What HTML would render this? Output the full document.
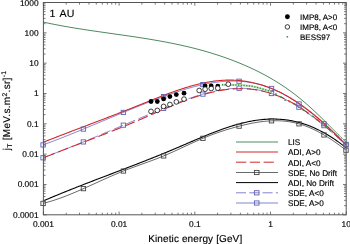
<!DOCTYPE html>
<html><head><meta charset="utf-8"><style>
html,body{margin:0;padding:0;background:#fff;}
svg{display:block;will-change:transform;}
text{font-family:"Liberation Sans",sans-serif;fill:#000;stroke:#000;stroke-width:0.15px;text-rendering:geometricPrecision;}
</style></head><body>
<svg width="350" height="244" viewBox="0 0 350 244">
<rect width="350" height="244" fill="#fff"/>
<path d="M43.00,22.04 L44.00,22.26 L45.00,22.47 L46.00,22.69 L47.00,22.90 L48.00,23.11 L49.00,23.32 L50.00,23.52 L51.00,23.72 L52.00,23.93 L53.00,24.13 L54.00,24.32 L55.00,24.52 L56.00,24.71 L57.00,24.90 L58.00,25.09 L59.00,25.28 L60.00,25.47 L61.00,25.65 L62.00,25.84 L63.00,26.02 L64.00,26.20 L65.00,26.38 L66.00,26.55 L67.00,26.73 L68.00,26.90 L69.00,27.08 L70.00,27.25 L71.00,27.42 L72.00,27.58 L73.00,27.75 L74.00,27.92 L75.00,28.08 L76.00,28.25 L77.00,28.41 L78.00,28.57 L79.00,28.73 L80.00,28.89 L81.00,29.04 L82.00,29.20 L83.00,29.36 L84.00,29.51 L85.00,29.67 L86.00,29.82 L87.00,29.97 L88.00,30.12 L89.00,30.27 L90.00,30.42 L91.00,30.57 L92.00,30.72 L93.00,30.87 L94.00,31.01 L95.00,31.16 L96.00,31.31 L97.00,31.45 L98.00,31.60 L99.00,31.74 L100.00,31.89 L101.00,32.03 L102.00,32.17 L103.00,32.32 L104.00,32.46 L105.00,32.60 L106.00,32.74 L107.00,32.89 L108.00,33.03 L109.00,33.17 L110.00,33.31 L111.00,33.45 L112.00,33.59 L113.00,33.74 L114.00,33.88 L115.00,34.02 L116.00,34.16 L117.00,34.30 L118.00,34.45 L119.00,34.59 L120.00,34.73 L121.00,34.87 L122.00,35.02 L123.00,35.16 L124.00,35.30 L125.00,35.45 L126.00,35.59 L127.00,35.74 L128.00,35.88 L129.00,36.03 L130.00,36.18 L131.00,36.33 L132.00,36.47 L133.00,36.62 L134.00,36.77 L135.00,36.92 L136.00,37.07 L137.00,37.22 L138.00,37.38 L139.00,37.53 L140.00,37.68 L141.00,37.84 L142.00,38.00 L143.00,38.15 L144.00,38.31 L145.00,38.47 L146.00,38.63 L147.00,38.79 L148.00,38.95 L149.00,39.12 L150.00,39.28 L151.00,39.45 L152.00,39.62 L153.00,39.79 L154.00,39.96 L155.00,40.13 L156.00,40.30 L157.00,40.48 L158.00,40.65 L159.00,40.83 L160.00,41.01 L161.00,41.19 L162.00,41.37 L163.00,41.56 L164.00,41.74 L165.00,41.93 L166.00,42.12 L167.00,42.31 L168.00,42.50 L169.00,42.70 L170.00,42.89 L171.00,43.09 L172.00,43.29 L173.00,43.50 L174.00,43.70 L175.00,43.91 L176.00,44.11 L177.00,44.33 L178.00,44.54 L179.00,44.75 L180.00,44.97 L181.00,45.19 L182.00,45.41 L183.00,45.64 L184.00,45.86 L185.00,46.09 L186.00,46.32 L187.00,46.56 L188.00,46.79 L189.00,47.03 L190.00,47.27 L191.00,47.52 L192.00,47.76 L193.00,48.01 L194.00,48.26 L195.00,48.52 L196.00,48.77 L197.00,49.03 L198.00,49.30 L199.00,49.56 L200.00,49.83 L201.00,50.10 L202.00,50.38 L203.00,50.65 L204.00,50.93 L205.00,51.22 L206.00,51.50 L207.00,51.79 L208.00,52.08 L209.00,52.38 L210.00,52.68 L211.00,52.98 L212.00,53.29 L213.00,53.60 L214.00,53.91 L215.00,54.22 L216.00,54.54 L217.00,54.86 L218.00,55.19 L219.00,55.52 L220.00,55.85 L221.00,56.19 L222.00,56.53 L223.00,56.87 L224.00,57.22 L225.00,57.57 L226.00,57.92 L227.00,58.28 L228.00,58.65 L229.00,59.01 L230.00,59.38 L231.00,59.76 L232.00,60.13 L233.00,60.51 L234.00,60.90 L235.00,61.29 L236.00,61.68 L237.00,62.08 L238.00,62.48 L239.00,62.89 L240.00,63.30 L241.00,63.71 L242.00,64.13 L243.00,64.56 L244.00,64.98 L245.00,65.42 L246.00,65.85 L247.00,66.29 L248.00,66.74 L249.00,67.19 L250.00,67.64 L251.00,68.10 L252.00,68.57 L253.00,69.04 L254.00,69.51 L255.00,69.99 L256.00,70.47 L257.00,70.97 L258.00,71.46 L259.00,71.96 L260.00,72.47 L261.00,72.98 L262.00,73.50 L263.00,74.03 L264.00,74.56 L265.00,75.10 L266.00,75.64 L267.00,76.19 L268.00,76.74 L269.00,77.31 L270.00,77.88 L271.00,78.45 L272.00,79.03 L273.00,79.62 L274.00,80.22 L275.00,80.82 L276.00,81.44 L277.00,82.05 L278.00,82.68 L279.00,83.31 L280.00,83.95 L281.00,84.60 L282.00,85.26 L283.00,85.92 L284.00,86.59 L285.00,87.27 L286.00,87.96 L287.00,88.65 L288.00,89.36 L289.00,90.07 L290.00,90.79 L291.00,91.52 L292.00,92.26 L293.00,93.00 L294.00,93.76 L295.00,94.52 L296.00,95.30 L297.00,96.08 L298.00,96.87 L299.00,97.67 L300.00,98.48 L301.00,99.30 L302.00,100.13 L303.00,100.97 L304.00,101.82 L305.00,102.68 L306.00,103.54 L307.00,104.42 L308.00,105.30 L309.00,106.20 L310.00,107.10 L311.00,108.01 L312.00,108.92 L313.00,109.84 L314.00,110.77 L315.00,111.71 L316.00,112.65 L317.00,113.60 L318.00,114.55 L319.00,115.51 L320.00,116.47 L321.00,117.44 L322.00,118.41 L323.00,119.39 L324.00,120.37 L325.00,121.35 L326.00,122.34 L327.00,123.33 L328.00,124.32 L329.00,125.31 L330.00,126.31 L331.00,127.30 L332.00,128.30 L333.00,129.30 L334.00,130.30 L335.00,131.30 L336.00,132.30 L337.00,133.30 L338.00,134.30 L339.00,135.29 L340.00,136.29 L341.00,137.29 L342.00,138.28 L343.00,139.27 L344.00,140.26 L345.00,141.24 L346.00,142.23" stroke="#4f8a5f" stroke-width="1" fill="none"/>
<path d="M43.00,203.41 L44.00,203.16 L45.00,202.90 L46.00,202.64 L47.00,202.36 L48.00,202.08 L49.00,201.80 L50.00,201.50 L51.00,201.20 L52.00,200.89 L53.00,200.58 L54.00,200.26 L55.00,199.93 L56.00,199.59 L57.00,199.26 L58.00,198.91 L59.00,198.56 L60.00,198.20 L61.00,197.84 L62.00,197.47 L63.00,197.10 L64.00,196.72 L65.00,196.34 L66.00,195.96 L67.00,195.57 L68.00,195.17 L69.00,194.77 L70.00,194.37 L71.00,193.96 L72.00,193.55 L73.00,193.14 L74.00,192.72 L75.00,192.30 L76.00,191.87 L77.00,191.45 L78.00,191.02 L79.00,190.58 L80.00,190.15 L81.00,189.71 L82.00,189.27 L83.00,188.83 L84.00,188.39 L85.00,187.94 L86.00,187.49 L87.00,187.05 L88.00,186.60 L89.00,186.15 L90.00,185.69 L91.00,185.24 L92.00,184.79 L93.00,184.33 L94.00,183.88 L95.00,183.42 L96.00,182.97 L97.00,182.51 L98.00,182.06 L99.00,181.61 L100.00,181.15 L101.00,180.70 L102.00,180.25 L103.00,179.80 L104.00,179.35 L105.00,178.90 L106.00,178.45 L107.00,178.00 L108.00,177.56 L109.00,177.12 L110.00,176.68 L111.00,176.24 L112.00,175.80 L113.00,175.37 L114.00,174.94 L115.00,174.51 L116.00,174.08 L117.00,173.66 L118.00,173.24 L119.00,172.83 L120.00,172.41 L121.00,172.01 L122.00,171.60 L123.00,171.20 L124.00,170.80 L125.00,170.41 L126.00,170.02 L127.00,169.64 L128.00,169.25 L129.00,168.87 L130.00,168.50 L131.00,168.12 L132.00,167.75 L133.00,167.38 L134.00,167.02 L135.00,166.65 L136.00,166.29 L137.00,165.93 L138.00,165.57 L139.00,165.20 L140.00,164.84 L141.00,164.48 L142.00,164.13 L143.00,163.77 L144.00,163.41 L145.00,163.05 L146.00,162.68 L147.00,162.32 L148.00,161.96 L149.00,161.59 L150.00,161.23 L151.00,160.86 L152.00,160.49 L153.00,160.11 L154.00,159.74 L155.00,159.36 L156.00,158.98 L157.00,158.59 L158.00,158.20 L159.00,157.81 L160.00,157.41 L161.00,157.01 L162.00,156.61 L163.00,156.20 L164.00,155.78 L165.00,155.36 L166.00,154.94 L167.00,154.51 L168.00,154.07 L169.00,153.64 L170.00,153.20 L171.00,152.75 L172.00,152.31 L173.00,151.86 L174.00,151.40 L175.00,150.95 L176.00,150.49 L177.00,150.03 L178.00,149.57 L179.00,149.11 L180.00,148.65 L181.00,148.18 L182.00,147.72 L183.00,147.25 L184.00,146.79 L185.00,146.32 L186.00,145.86 L187.00,145.39 L188.00,144.93 L189.00,144.47 L190.00,144.01 L191.00,143.55 L192.00,143.09 L193.00,142.64 L194.00,142.18 L195.00,141.73 L196.00,141.29 L197.00,140.84 L198.00,140.40 L199.00,139.97 L200.00,139.54 L201.00,139.11 L202.00,138.68 L203.00,138.26 L204.00,137.85 L205.00,137.44 L206.00,137.04 L207.00,136.64 L208.00,136.24 L209.00,135.85 L210.00,135.46 L211.00,135.08 L212.00,134.71 L213.00,134.33 L214.00,133.97 L215.00,133.60 L216.00,133.24 L217.00,132.89 L218.00,132.54 L219.00,132.20 L220.00,131.86 L221.00,131.52 L222.00,131.19 L223.00,130.86 L224.00,130.54 L225.00,130.22 L226.00,129.90 L227.00,129.59 L228.00,129.29 L229.00,128.99 L230.00,128.69 L231.00,128.40 L232.00,128.11 L233.00,127.82 L234.00,127.54 L235.00,127.26 L236.00,126.99 L237.00,126.72 L238.00,126.46 L239.00,126.20 L240.00,125.94 L241.00,125.69 L242.00,125.44 L243.00,125.20 L244.00,124.96 L245.00,124.72 L246.00,124.49 L247.00,124.27 L248.00,124.05 L249.00,123.83 L250.00,123.63 L251.00,123.42 L252.00,123.23 L253.00,123.04 L254.00,122.85 L255.00,122.67 L256.00,122.50 L257.00,122.34 L258.00,122.18 L259.00,122.03 L260.00,121.89 L261.00,121.75 L262.00,121.63 L263.00,121.51 L264.00,121.39 L265.00,121.29 L266.00,121.20 L267.00,121.11 L268.00,121.03 L269.00,120.96 L270.00,120.90 L271.00,120.85 L272.00,120.81 L273.00,120.78 L274.00,120.75 L275.00,120.74 L276.00,120.74 L277.00,120.75 L278.00,120.77 L279.00,120.80 L280.00,120.83 L281.00,120.89 L282.00,120.95 L283.00,121.02 L284.00,121.10 L285.00,121.20 L286.00,121.31 L287.00,121.43 L288.00,121.56 L289.00,121.70 L290.00,121.86 L291.00,122.03 L292.00,122.21 L293.00,122.41 L294.00,122.62 L295.00,122.84 L296.00,123.07 L297.00,123.32 L298.00,123.58 L299.00,123.86 L300.00,124.15 L301.00,124.45 L302.00,124.77 L303.00,125.10 L304.00,125.45 L305.00,125.81 L306.00,126.18 L307.00,126.57 L308.00,126.96 L309.00,127.37 L310.00,127.80 L311.00,128.23 L312.00,128.68 L313.00,129.14 L314.00,129.61 L315.00,130.10 L316.00,130.59 L317.00,131.10 L318.00,131.62 L319.00,132.15 L320.00,132.69 L321.00,133.24 L322.00,133.81 L323.00,134.38 L324.00,134.97 L325.00,135.56 L326.00,136.17 L327.00,136.78 L328.00,137.41 L329.00,138.04 L330.00,138.69 L331.00,139.34 L332.00,140.01 L333.00,140.68 L334.00,141.36 L335.00,142.05 L336.00,142.75 L337.00,143.46 L338.00,144.18 L339.00,144.91 L340.00,145.64 L341.00,146.38 L342.00,147.13 L343.00,147.89 L344.00,148.66 L345.00,149.43 L346.00,150.21" stroke="#444" stroke-width="0.8" fill="none"/>
<path d="M43.00,201.03 L44.00,200.60 L45.00,200.17 L46.00,199.75 L47.00,199.32 L48.00,198.90 L49.00,198.47 L50.00,198.05 L51.00,197.63 L52.00,197.22 L53.00,196.80 L54.00,196.38 L55.00,195.97 L56.00,195.55 L57.00,195.14 L58.00,194.73 L59.00,194.32 L60.00,193.91 L61.00,193.50 L62.00,193.09 L63.00,192.69 L64.00,192.28 L65.00,191.88 L66.00,191.48 L67.00,191.07 L68.00,190.67 L69.00,190.27 L70.00,189.87 L71.00,189.47 L72.00,189.08 L73.00,188.68 L74.00,188.28 L75.00,187.89 L76.00,187.49 L77.00,187.10 L78.00,186.71 L79.00,186.31 L80.00,185.92 L81.00,185.53 L82.00,185.14 L83.00,184.75 L84.00,184.36 L85.00,183.97 L86.00,183.58 L87.00,183.20 L88.00,182.81 L89.00,182.42 L90.00,182.04 L91.00,181.65 L92.00,181.27 L93.00,180.88 L94.00,180.50 L95.00,180.11 L96.00,179.73 L97.00,179.34 L98.00,178.96 L99.00,178.58 L100.00,178.20 L101.00,177.81 L102.00,177.43 L103.00,177.05 L104.00,176.67 L105.00,176.28 L106.00,175.90 L107.00,175.52 L108.00,175.14 L109.00,174.76 L110.00,174.38 L111.00,174.00 L112.00,173.62 L113.00,173.23 L114.00,172.85 L115.00,172.47 L116.00,172.09 L117.00,171.71 L118.00,171.33 L119.00,170.94 L120.00,170.56 L121.00,170.18 L122.00,169.80 L123.00,169.42 L124.00,169.03 L125.00,168.65 L126.00,168.27 L127.00,167.88 L128.00,167.50 L129.00,167.11 L130.00,166.73 L131.00,166.34 L132.00,165.96 L133.00,165.57 L134.00,165.19 L135.00,164.80 L136.00,164.41 L137.00,164.02 L138.00,163.63 L139.00,163.25 L140.00,162.86 L141.00,162.46 L142.00,162.07 L143.00,161.68 L144.00,161.29 L145.00,160.90 L146.00,160.50 L147.00,160.11 L148.00,159.71 L149.00,159.32 L150.00,158.92 L151.00,158.52 L152.00,158.13 L153.00,157.73 L154.00,157.33 L155.00,156.93 L156.00,156.52 L157.00,156.12 L158.00,155.72 L159.00,155.31 L160.00,154.91 L161.00,154.50 L162.00,154.09 L163.00,153.68 L164.00,153.27 L165.00,152.86 L166.00,152.45 L167.00,152.04 L168.00,151.62 L169.00,151.21 L170.00,150.79 L171.00,150.37 L172.00,149.95 L173.00,149.53 L174.00,149.11 L175.00,148.68 L176.00,148.26 L177.00,147.83 L178.00,147.41 L179.00,146.98 L180.00,146.55 L181.00,146.12 L182.00,145.69 L183.00,145.26 L184.00,144.83 L185.00,144.40 L186.00,143.97 L187.00,143.53 L188.00,143.10 L189.00,142.67 L190.00,142.24 L191.00,141.81 L192.00,141.38 L193.00,140.95 L194.00,140.52 L195.00,140.09 L196.00,139.67 L197.00,139.24 L198.00,138.82 L199.00,138.39 L200.00,137.97 L201.00,137.55 L202.00,137.13 L203.00,136.72 L204.00,136.30 L205.00,135.89 L206.00,135.48 L207.00,135.07 L208.00,134.66 L209.00,134.26 L210.00,133.86 L211.00,133.46 L212.00,133.07 L213.00,132.68 L214.00,132.29 L215.00,131.90 L216.00,131.52 L217.00,131.14 L218.00,130.77 L219.00,130.40 L220.00,130.03 L221.00,129.67 L222.00,129.31 L223.00,128.95 L224.00,128.60 L225.00,128.25 L226.00,127.91 L227.00,127.57 L228.00,127.24 L229.00,126.91 L230.00,126.59 L231.00,126.27 L232.00,125.96 L233.00,125.65 L234.00,125.35 L235.00,125.05 L236.00,124.76 L237.00,124.48 L238.00,124.20 L239.00,123.93 L240.00,123.66 L241.00,123.40 L242.00,123.15 L243.00,122.90 L244.00,122.66 L245.00,122.43 L246.00,122.20 L247.00,121.98 L248.00,121.77 L249.00,121.56 L250.00,121.36 L251.00,121.17 L252.00,120.99 L253.00,120.81 L254.00,120.65 L255.00,120.49 L256.00,120.33 L257.00,120.19 L258.00,120.05 L259.00,119.93 L260.00,119.81 L261.00,119.70 L262.00,119.60 L263.00,119.50 L264.00,119.42 L265.00,119.34 L266.00,119.27 L267.00,119.22 L268.00,119.17 L269.00,119.13 L270.00,119.09 L271.00,119.07 L272.00,119.06 L273.00,119.05 L274.00,119.06 L275.00,119.07 L276.00,119.10 L277.00,119.13 L278.00,119.18 L279.00,119.23 L280.00,119.29 L281.00,119.37 L282.00,119.45 L283.00,119.54 L284.00,119.64 L285.00,119.76 L286.00,119.88 L287.00,120.01 L288.00,120.16 L289.00,120.31 L290.00,120.48 L291.00,120.65 L292.00,120.84 L293.00,121.03 L294.00,121.24 L295.00,121.46 L296.00,121.69 L297.00,121.93 L298.00,122.18 L299.00,122.44 L300.00,122.72 L301.00,123.00 L302.00,123.30 L303.00,123.61 L304.00,123.93 L305.00,124.26 L306.00,124.60 L307.00,124.95 L308.00,125.32 L309.00,125.70 L310.00,126.09 L311.00,126.49 L312.00,126.90 L313.00,127.33 L314.00,127.77 L315.00,128.22 L316.00,128.68 L317.00,129.15 L318.00,129.63 L319.00,130.12 L320.00,130.63 L321.00,131.15 L322.00,131.68 L323.00,132.22 L324.00,132.77 L325.00,133.33 L326.00,133.91 L327.00,134.49 L328.00,135.09 L329.00,135.69 L330.00,136.31 L331.00,136.94 L332.00,137.58 L333.00,138.23 L334.00,138.90 L335.00,139.57 L336.00,140.25 L337.00,140.95 L338.00,141.65 L339.00,142.37 L340.00,143.09 L341.00,143.83 L342.00,144.58 L343.00,145.34 L344.00,146.11 L345.00,146.89 L346.00,147.68" stroke="#000" stroke-width="1.1" fill="none"/>
<path d="M43.10,157.79 L44.10,157.42 L45.10,157.04 L46.10,156.67 L47.10,156.29 L48.10,155.91 L49.10,155.53 L50.10,155.15 L51.10,154.77 L52.10,154.39 L53.10,154.00 L54.10,153.62 L55.10,153.23 L56.10,152.84 L57.10,152.45 L58.10,152.06 L59.10,151.67 L60.10,151.28 L61.10,150.89 L62.10,150.50 L63.10,150.10 L64.10,149.71 L65.10,149.31 L66.10,148.91 L67.10,148.52 L68.10,148.12 L69.10,147.72 L70.10,147.32 L71.10,146.91 L72.10,146.51 L73.10,146.11 L74.10,145.71 L75.10,145.30 L76.10,144.90 L77.10,144.49 L78.10,144.08 L79.10,143.68 L80.10,143.27 L81.10,142.86 L82.10,142.45 L83.10,142.04 L84.10,141.63 L85.10,141.22 L86.10,140.81 L87.10,140.39 L88.10,139.98 L89.10,139.57 L90.10,139.15 L91.10,138.74 L92.10,138.32 L93.10,137.91 L94.10,137.49 L95.10,137.08 L96.10,136.66 L97.10,136.24 L98.10,135.83 L99.10,135.41 L100.10,134.99 L101.10,134.57 L102.10,134.15 L103.10,133.73 L104.10,133.31 L105.10,132.89 L106.10,132.47 L107.10,132.05 L108.10,131.63 L109.10,131.21 L110.10,130.79 L111.10,130.37 L112.10,129.95 L113.10,129.53 L114.10,129.10 L115.10,128.68 L116.10,128.26 L117.10,127.84 L118.10,127.42 L119.10,126.99 L120.10,126.57 L121.10,126.15 L122.10,125.73 L123.10,125.31 L124.10,124.88 L125.10,124.46 L126.10,124.04 L127.10,123.62 L128.10,123.20 L129.10,122.77 L130.10,122.35 L131.10,121.93 L132.10,121.51 L133.10,121.09 L134.10,120.67 L135.10,120.25 L136.10,119.83 L137.10,119.40 L138.10,118.98 L139.10,118.56 L140.10,118.14 L141.10,117.73 L142.10,117.31 L143.10,116.89 L144.10,116.47 L145.10,116.05 L146.10,115.63 L147.10,115.22 L148.10,114.80 L149.10,114.38 L150.10,113.97 L151.10,113.55 L152.10,113.14 L153.10,112.72 L154.10,112.31 L155.10,111.89 L156.10,111.48 L157.10,111.07 L158.10,110.66 L159.10,110.24 L160.10,109.83 L161.10,109.42 L162.10,109.01 L163.10,108.61 L164.10,108.20 L165.10,107.79 L166.10,107.38 L167.10,106.98 L168.10,106.57 L169.10,106.17 L170.10,105.77 L171.10,105.37 L172.10,104.97 L173.10,104.57 L174.10,104.17 L175.10,103.78 L176.10,103.39 L177.10,103.00 L178.10,102.61 L179.10,102.23 L180.10,101.85 L181.10,101.47 L182.10,101.09 L183.10,100.72 L184.10,100.35 L185.10,99.98 L186.10,99.62 L187.10,99.25 L188.10,98.90 L189.10,98.54 L190.10,98.19 L191.10,97.85 L192.10,97.51 L193.10,97.17 L194.10,96.84 L195.10,96.51 L196.10,96.18 L197.10,95.86 L198.10,95.55 L199.10,95.24 L200.10,94.93 L201.10,94.64 L202.10,94.34 L203.10,94.05 L204.10,93.77 L205.10,93.49 L206.10,93.22 L207.10,92.95 L208.10,92.69 L209.10,92.44 L210.10,92.19 L211.10,91.95 L212.10,91.71 L213.10,91.48 L214.10,91.26 L215.10,91.05 L216.10,90.84 L217.10,90.64 L218.10,90.44 L219.10,90.26 L220.10,90.08 L221.10,89.91 L222.10,89.75 L223.10,89.59 L224.10,89.44 L225.10,89.30 L226.10,89.17 L227.10,89.05 L228.10,88.93 L229.10,88.83 L230.10,88.73 L231.10,88.64 L232.10,88.56 L233.10,88.49 L234.10,88.43 L235.10,88.38 L236.10,88.34 L237.10,88.30 L238.10,88.28 L239.10,88.27 L240.10,88.26 L241.10,88.27 L242.10,88.29 L243.10,88.31 L244.10,88.35 L245.10,88.40 L246.10,88.45 L247.10,88.52 L248.10,88.60 L249.10,88.69 L250.10,88.79 L251.10,88.90 L252.10,89.02 L253.10,89.15 L254.10,89.29 L255.10,89.44 L256.10,89.61 L257.10,89.78 L258.10,89.97 L259.10,90.16 L260.10,90.37 L261.10,90.59 L262.10,90.82 L263.10,91.06 L264.10,91.32 L265.10,91.58 L266.10,91.86 L267.10,92.15 L268.10,92.45 L269.10,92.76 L270.10,93.08 L271.10,93.42 L272.10,93.76 L273.10,94.12 L274.10,94.49 L275.10,94.88 L276.10,95.27 L277.10,95.67 L278.10,96.09 L279.10,96.52 L280.10,96.96 L281.10,97.41 L282.10,97.87 L283.10,98.34 L284.10,98.83 L285.10,99.32 L286.10,99.82 L287.10,100.34 L288.10,100.86 L289.10,101.40 L290.10,101.94 L291.10,102.50 L292.10,103.06 L293.10,103.64 L294.10,104.23 L295.10,104.82 L296.10,105.42 L297.10,106.04 L298.10,106.66 L299.10,107.29 L300.10,107.94 L301.10,108.59 L302.10,109.25 L303.10,109.91 L304.10,110.59 L305.10,111.28 L306.10,111.97 L307.10,112.67 L308.10,113.38 L309.10,114.10 L310.10,114.83 L311.10,115.56 L312.10,116.30 L313.10,117.05 L314.10,117.80 L315.10,118.57 L316.10,119.34 L317.10,120.12 L318.10,120.90 L319.10,121.69 L320.10,122.49 L321.10,123.29 L322.10,124.10 L323.10,124.92 L324.10,125.74 L325.10,126.57 L326.10,127.40 L327.10,128.24 L328.10,129.09 L329.10,129.94 L330.10,130.79 L331.10,131.65 L332.10,132.52 L333.10,133.39 L334.10,134.26 L335.10,135.14 L336.10,136.03 L337.10,136.92 L338.10,137.81 L339.10,138.71 L340.10,139.61 L341.10,140.51 L342.10,141.42 L343.10,142.33 L344.10,143.25 L345.10,144.17 L346.00,144.99" stroke="#7676c6" stroke-width="0.9" fill="none" stroke-dasharray="10,3.5" stroke-dashoffset="5"/>
<path d="M43.10,157.92 L44.10,157.52 L45.10,157.12 L46.10,156.72 L47.10,156.32 L48.10,155.93 L49.10,155.53 L50.10,155.14 L51.10,154.74 L52.10,154.35 L53.10,153.96 L54.10,153.56 L55.10,153.17 L56.10,152.78 L57.10,152.39 L58.10,152.00 L59.10,151.62 L60.10,151.23 L61.10,150.84 L62.10,150.45 L63.10,150.06 L64.10,149.68 L65.10,149.29 L66.10,148.91 L67.10,148.52 L68.10,148.14 L69.10,147.75 L70.10,147.37 L71.10,146.98 L72.10,146.60 L73.10,146.21 L74.10,145.83 L75.10,145.45 L76.10,145.06 L77.10,144.68 L78.10,144.30 L79.10,143.91 L80.10,143.53 L81.10,143.15 L82.10,142.76 L83.10,142.38 L84.10,142.00 L85.10,141.61 L86.10,141.23 L87.10,140.85 L88.10,140.46 L89.10,140.08 L90.10,139.69 L91.10,139.31 L92.10,138.92 L93.10,138.54 L94.10,138.15 L95.10,137.76 L96.10,137.38 L97.10,136.99 L98.10,136.60 L99.10,136.22 L100.10,135.83 L101.10,135.44 L102.10,135.05 L103.10,134.66 L104.10,134.27 L105.10,133.88 L106.10,133.48 L107.10,133.09 L108.10,132.70 L109.10,132.30 L110.10,131.91 L111.10,131.51 L112.10,131.11 L113.10,130.72 L114.10,130.32 L115.10,129.92 L116.10,129.52 L117.10,129.12 L118.10,128.72 L119.10,128.31 L120.10,127.91 L121.10,127.50 L122.10,127.10 L123.10,126.69 L124.10,126.28 L125.10,125.87 L126.10,125.46 L127.10,125.05 L128.10,124.64 L129.10,124.22 L130.10,123.81 L131.10,123.39 L132.10,122.97 L133.10,122.55 L134.10,122.13 L135.10,121.71 L136.10,121.28 L137.10,120.86 L138.10,120.43 L139.10,120.00 L140.10,119.57 L141.10,119.14 L142.10,118.71 L143.10,118.27 L144.10,117.84 L145.10,117.41 L146.10,116.97 L147.10,116.53 L148.10,116.10 L149.10,115.66 L150.10,115.22 L151.10,114.78 L152.10,114.35 L153.10,113.91 L154.10,113.47 L155.10,113.03 L156.10,112.60 L157.10,112.16 L158.10,111.72 L159.10,111.29 L160.10,110.85 L161.10,110.42 L162.10,109.99 L163.10,109.56 L164.10,109.13 L165.10,108.70 L166.10,108.27 L167.10,107.85 L168.10,107.42 L169.10,107.00 L170.10,106.58 L171.10,106.17 L172.10,105.75 L173.10,105.34 L174.10,104.93 L175.10,104.52 L176.10,104.11 L177.10,103.71 L178.10,103.31 L179.10,102.91 L180.10,102.52 L181.10,102.13 L182.10,101.74 L183.10,101.36 L184.10,100.97 L185.10,100.60 L186.10,100.22 L187.10,99.85 L188.10,99.49 L189.10,99.13 L190.10,98.77 L191.10,98.42 L192.10,98.07 L193.10,97.72 L194.10,97.38 L195.10,97.05 L196.10,96.72 L197.10,96.39 L198.10,96.07 L199.10,95.76 L200.10,95.45 L201.10,95.15 L202.10,94.85 L203.10,94.55 L204.10,94.27 L205.10,93.99 L206.10,93.71 L207.10,93.44 L208.10,93.18 L209.10,92.92 L210.10,92.67 L211.10,92.43 L212.10,92.19 L213.10,91.96 L214.10,91.74 L215.10,91.52 L216.10,91.31 L217.10,91.11 L218.10,90.91 L219.10,90.72 L220.10,90.54 L221.10,90.37 L222.10,90.20 L223.10,90.05 L224.10,89.90 L225.10,89.76 L226.10,89.62 L227.10,89.50 L228.10,89.38 L229.10,89.28 L230.10,89.18 L231.10,89.09 L232.10,89.00 L233.10,88.93 L234.10,88.87 L235.10,88.81 L236.10,88.77 L237.10,88.73 L238.10,88.70 L239.10,88.68 L240.10,88.67 L241.10,88.67 L242.10,88.68 L243.10,88.70 L244.10,88.73 L245.10,88.77 L246.10,88.81 L247.10,88.87 L248.10,88.94 L249.10,89.02 L250.10,89.10 L251.10,89.20 L252.10,89.31 L253.10,89.42 L254.10,89.55 L255.10,89.69 L256.10,89.84 L257.10,90.00 L258.10,90.17 L259.10,90.35 L260.10,90.54 L261.10,90.74 L262.10,90.95 L263.10,91.18 L264.10,91.41 L265.10,91.66 L266.10,91.91 L267.10,92.18 L268.10,92.46 L269.10,92.75 L270.10,93.05 L271.10,93.37 L272.10,93.69 L273.10,94.03 L274.10,94.38 L275.10,94.74 L276.10,95.11 L277.10,95.49 L278.10,95.89 L279.10,96.29 L280.10,96.71 L281.10,97.15 L282.10,97.59 L283.10,98.05 L284.10,98.51 L285.10,98.99 L286.10,99.49 L287.10,99.99 L288.10,100.51 L289.10,101.03 L290.10,101.57 L291.10,102.12 L292.10,102.68 L293.10,103.25 L294.10,103.83 L295.10,104.42 L296.10,105.02 L297.10,105.63 L298.10,106.26 L299.10,106.89 L300.10,107.53 L301.10,108.18 L302.10,108.83 L303.10,109.50 L304.10,110.18 L305.10,110.86 L306.10,111.56 L307.10,112.26 L308.10,112.97 L309.10,113.69 L310.10,114.42 L311.10,115.15 L312.10,115.89 L313.10,116.64 L314.10,117.40 L315.10,118.16 L316.10,118.93 L317.10,119.71 L318.10,120.49 L319.10,121.28 L320.10,122.07 L321.10,122.88 L322.10,123.68 L323.10,124.50 L324.10,125.32 L325.10,126.14 L326.10,126.97 L327.10,127.81 L328.10,128.65 L329.10,129.49 L330.10,130.34 L331.10,131.19 L332.10,132.05 L333.10,132.91 L334.10,133.78 L335.10,134.65 L336.10,135.52 L337.10,136.40 L338.10,137.28 L339.10,138.16 L340.10,139.04 L341.10,139.93 L342.10,140.82 L343.10,141.72 L344.10,142.61 L345.10,143.51 L346.00,144.32" stroke="#d0282e" stroke-width="1.1" fill="none" stroke-dasharray="10.5,3.8" stroke-dashoffset="12.3"/>
<path d="M43.10,144.91 L44.10,144.55 L45.10,144.18 L46.10,143.81 L47.10,143.44 L48.10,143.07 L49.10,142.70 L50.10,142.32 L51.10,141.94 L52.10,141.56 L53.10,141.18 L54.10,140.80 L55.10,140.42 L56.10,140.03 L57.10,139.65 L58.10,139.26 L59.10,138.87 L60.10,138.48 L61.10,138.09 L62.10,137.70 L63.10,137.30 L64.10,136.91 L65.10,136.51 L66.10,136.11 L67.10,135.72 L68.10,135.32 L69.10,134.92 L70.10,134.51 L71.10,134.11 L72.10,133.71 L73.10,133.30 L74.10,132.90 L75.10,132.49 L76.10,132.08 L77.10,131.67 L78.10,131.26 L79.10,130.85 L80.10,130.44 L81.10,130.03 L82.10,129.62 L83.10,129.21 L84.10,128.79 L85.10,128.38 L86.10,127.97 L87.10,127.55 L88.10,127.13 L89.10,126.72 L90.10,126.30 L91.10,125.89 L92.10,125.47 L93.10,125.05 L94.10,124.63 L95.10,124.21 L96.10,123.80 L97.10,123.38 L98.10,122.96 L99.10,122.54 L100.10,122.12 L101.10,121.70 L102.10,121.28 L103.10,120.86 L104.10,120.44 L105.10,120.02 L106.10,119.60 L107.10,119.18 L108.10,118.77 L109.10,118.35 L110.10,117.93 L111.10,117.51 L112.10,117.09 L113.10,116.67 L114.10,116.25 L115.10,115.84 L116.10,115.42 L117.10,115.00 L118.10,114.59 L119.10,114.17 L120.10,113.75 L121.10,113.34 L122.10,112.93 L123.10,112.51 L124.10,112.10 L125.10,111.68 L126.10,111.27 L127.10,110.86 L128.10,110.45 L129.10,110.04 L130.10,109.63 L131.10,109.22 L132.10,108.81 L133.10,108.41 L134.10,108.00 L135.10,107.60 L136.10,107.19 L137.10,106.79 L138.10,106.39 L139.10,105.99 L140.10,105.59 L141.10,105.19 L142.10,104.79 L143.10,104.39 L144.10,104.00 L145.10,103.60 L146.10,103.21 L147.10,102.82 L148.10,102.43 L149.10,102.04 L150.10,101.65 L151.10,101.27 L152.10,100.88 L153.10,100.50 L154.10,100.12 L155.10,99.73 L156.10,99.36 L157.10,98.98 L158.10,98.60 L159.10,98.23 L160.10,97.86 L161.10,97.49 L162.10,97.12 L163.10,96.75 L164.10,96.38 L165.10,96.02 L166.10,95.66 L167.10,95.30 L168.10,94.94 L169.10,94.59 L170.10,94.23 L171.10,93.88 L172.10,93.54 L173.10,93.19 L174.10,92.85 L175.10,92.51 L176.10,92.17 L177.10,91.84 L178.10,91.51 L179.10,91.18 L180.10,90.86 L181.10,90.54 L182.10,90.22 L183.10,89.91 L184.10,89.60 L185.10,89.29 L186.10,88.99 L187.10,88.69 L188.10,88.40 L189.10,88.11 L190.10,87.82 L191.10,87.54 L192.10,87.27 L193.10,87.00 L194.10,86.73 L195.10,86.47 L196.10,86.21 L197.10,85.96 L198.10,85.71 L199.10,85.47 L200.10,85.23 L201.10,85.00 L202.10,84.78 L203.10,84.56 L204.10,84.34 L205.10,84.14 L206.10,83.93 L207.10,83.74 L208.10,83.55 L209.10,83.36 L210.10,83.19 L211.10,83.01 L212.10,82.85 L213.10,82.69 L214.10,82.54 L215.10,82.40 L216.10,82.26 L217.10,82.13 L218.10,82.00 L219.10,81.89 L220.10,81.78 L221.10,81.68 L222.10,81.58 L223.10,81.50 L224.10,81.42 L225.10,81.35 L226.10,81.29 L227.10,81.23 L228.10,81.18 L229.10,81.15 L230.10,81.11 L231.10,81.09 L232.10,81.08 L233.10,81.07 L234.10,81.08 L235.10,81.09 L236.10,81.11 L237.10,81.14 L238.10,81.18 L239.10,81.23 L240.10,81.29 L241.10,81.36 L242.10,81.43 L243.10,81.52 L244.10,81.62 L245.10,81.72 L246.10,81.84 L247.10,81.97 L248.10,82.10 L249.10,82.25 L250.10,82.41 L251.10,82.57 L252.10,82.75 L253.10,82.94 L254.10,83.14 L255.10,83.35 L256.10,83.57 L257.10,83.80 L258.10,84.05 L259.10,84.30 L260.10,84.57 L261.10,84.84 L262.10,85.13 L263.10,85.43 L264.10,85.75 L265.10,86.07 L266.10,86.41 L267.10,86.76 L268.10,87.12 L269.10,87.49 L270.10,87.88 L271.10,88.27 L272.10,88.69 L273.10,89.11 L274.10,89.54 L275.10,89.99 L276.10,90.45 L277.10,90.92 L278.10,91.41 L279.10,91.90 L280.10,92.41 L281.10,92.93 L282.10,93.46 L283.10,94.00 L284.10,94.55 L285.10,95.11 L286.10,95.68 L287.10,96.27 L288.10,96.86 L289.10,97.46 L290.10,98.07 L291.10,98.70 L292.10,99.33 L293.10,99.97 L294.10,100.62 L295.10,101.28 L296.10,101.95 L297.10,102.63 L298.10,103.31 L299.10,104.01 L300.10,104.71 L301.10,105.42 L302.10,106.14 L303.10,106.87 L304.10,107.60 L305.10,108.35 L306.10,109.10 L307.10,109.85 L308.10,110.62 L309.10,111.39 L310.10,112.17 L311.10,112.96 L312.10,113.76 L313.10,114.56 L314.10,115.37 L315.10,116.19 L316.10,117.01 L317.10,117.84 L318.10,118.67 L319.10,119.52 L320.10,120.37 L321.10,121.22 L322.10,122.09 L323.10,122.96 L324.10,123.83 L325.10,124.71 L326.10,125.60 L327.10,126.49 L328.10,127.39 L329.10,128.29 L330.10,129.20 L331.10,130.12 L332.10,131.04 L333.10,131.97 L334.10,132.90 L335.10,133.83 L336.10,134.78 L337.10,135.72 L338.10,136.67 L339.10,137.63 L340.10,138.59 L341.10,139.56 L342.10,140.53 L343.10,141.50 L344.10,142.48 L345.10,143.47 L346.10,144.45" stroke="#7676c6" stroke-width="0.9" fill="none"/>
<path d="M43.00,142.35 L44.00,141.95 L45.00,141.56 L46.00,141.17 L47.00,140.77 L48.00,140.38 L49.00,139.99 L50.00,139.60 L51.00,139.21 L52.00,138.82 L53.00,138.43 L54.00,138.04 L55.00,137.65 L56.00,137.26 L57.00,136.87 L58.00,136.49 L59.00,136.10 L60.00,135.71 L61.00,135.33 L62.00,134.94 L63.00,134.56 L64.00,134.17 L65.00,133.79 L66.00,133.40 L67.00,133.02 L68.00,132.64 L69.00,132.25 L70.00,131.87 L71.00,131.49 L72.00,131.11 L73.00,130.72 L74.00,130.34 L75.00,129.96 L76.00,129.58 L77.00,129.20 L78.00,128.81 L79.00,128.43 L80.00,128.05 L81.00,127.67 L82.00,127.29 L83.00,126.91 L84.00,126.53 L85.00,126.15 L86.00,125.77 L87.00,125.39 L88.00,125.01 L89.00,124.63 L90.00,124.25 L91.00,123.86 L92.00,123.48 L93.00,123.10 L94.00,122.72 L95.00,122.34 L96.00,121.96 L97.00,121.58 L98.00,121.20 L99.00,120.81 L100.00,120.43 L101.00,120.05 L102.00,119.67 L103.00,119.29 L104.00,118.90 L105.00,118.52 L106.00,118.14 L107.00,117.75 L108.00,117.37 L109.00,116.98 L110.00,116.60 L111.00,116.22 L112.00,115.83 L113.00,115.44 L114.00,115.06 L115.00,114.67 L116.00,114.28 L117.00,113.90 L118.00,113.51 L119.00,113.12 L120.00,112.73 L121.00,112.34 L122.00,111.95 L123.00,111.56 L124.00,111.17 L125.00,110.78 L126.00,110.39 L127.00,109.99 L128.00,109.60 L129.00,109.21 L130.00,108.81 L131.00,108.42 L132.00,108.02 L133.00,107.62 L134.00,107.23 L135.00,106.83 L136.00,106.43 L137.00,106.03 L138.00,105.63 L139.00,105.23 L140.00,104.83 L141.00,104.42 L142.00,104.02 L143.00,103.62 L144.00,103.21 L145.00,102.81 L146.00,102.41 L147.00,102.00 L148.00,101.60 L149.00,101.20 L150.00,100.79 L151.00,100.39 L152.00,99.99 L153.00,99.59 L154.00,99.19 L155.00,98.79 L156.00,98.40 L157.00,98.00 L158.00,97.60 L159.00,97.21 L160.00,96.82 L161.00,96.43 L162.00,96.04 L163.00,95.66 L164.00,95.27 L165.00,94.89 L166.00,94.51 L167.00,94.13 L168.00,93.76 L169.00,93.38 L170.00,93.02 L171.00,92.65 L172.00,92.28 L173.00,91.92 L174.00,91.57 L175.00,91.21 L176.00,90.86 L177.00,90.51 L178.00,90.17 L179.00,89.83 L180.00,89.49 L181.00,89.16 L182.00,88.83 L183.00,88.51 L184.00,88.19 L185.00,87.88 L186.00,87.57 L187.00,87.26 L188.00,86.96 L189.00,86.66 L190.00,86.37 L191.00,86.08 L192.00,85.80 L193.00,85.53 L194.00,85.26 L195.00,84.99 L196.00,84.73 L197.00,84.48 L198.00,84.23 L199.00,83.99 L200.00,83.76 L201.00,83.53 L202.00,83.30 L203.00,83.09 L204.00,82.88 L205.00,82.67 L206.00,82.48 L207.00,82.29 L208.00,82.11 L209.00,81.93 L210.00,81.76 L211.00,81.60 L212.00,81.45 L213.00,81.30 L214.00,81.17 L215.00,81.04 L216.00,80.91 L217.00,80.80 L218.00,80.70 L219.00,80.60 L220.00,80.51 L221.00,80.43 L222.00,80.36 L223.00,80.29 L224.00,80.24 L225.00,80.19 L226.00,80.16 L227.00,80.13 L228.00,80.11 L229.00,80.10 L230.00,80.10 L231.00,80.11 L232.00,80.13 L233.00,80.16 L234.00,80.20 L235.00,80.25 L236.00,80.30 L237.00,80.37 L238.00,80.45 L239.00,80.53 L240.00,80.63 L241.00,80.73 L242.00,80.85 L243.00,80.97 L244.00,81.10 L245.00,81.25 L246.00,81.40 L247.00,81.56 L248.00,81.73 L249.00,81.92 L250.00,82.11 L251.00,82.31 L252.00,82.52 L253.00,82.74 L254.00,82.97 L255.00,83.20 L256.00,83.45 L257.00,83.71 L258.00,83.98 L259.00,84.26 L260.00,84.55 L261.00,84.84 L262.00,85.15 L263.00,85.47 L264.00,85.79 L265.00,86.13 L266.00,86.47 L267.00,86.83 L268.00,87.19 L269.00,87.57 L270.00,87.96 L271.00,88.35 L272.00,88.75 L273.00,89.17 L274.00,89.59 L275.00,90.03 L276.00,90.47 L277.00,90.92 L278.00,91.39 L279.00,91.86 L280.00,92.35 L281.00,92.84 L282.00,93.34 L283.00,93.86 L284.00,94.38 L285.00,94.91 L286.00,95.45 L287.00,96.01 L288.00,96.57 L289.00,97.14 L290.00,97.73 L291.00,98.32 L292.00,98.92 L293.00,99.53 L294.00,100.16 L295.00,100.79 L296.00,101.43 L297.00,102.09 L298.00,102.75 L299.00,103.42 L300.00,104.11 L301.00,104.80 L302.00,105.50 L303.00,106.22 L304.00,106.94 L305.00,107.67 L306.00,108.41 L307.00,109.17 L308.00,109.93 L309.00,110.70 L310.00,111.48 L311.00,112.27 L312.00,113.06 L313.00,113.87 L314.00,114.69 L315.00,115.51 L316.00,116.35 L317.00,117.19 L318.00,118.04 L319.00,118.90 L320.00,119.77 L321.00,120.64 L322.00,121.53 L323.00,122.42 L324.00,123.32 L325.00,124.23 L326.00,125.15 L327.00,126.07 L328.00,127.00 L329.00,127.94 L330.00,128.89 L331.00,129.85 L332.00,130.81 L333.00,131.78 L334.00,132.76 L335.00,133.74 L336.00,134.74 L337.00,135.74 L338.00,136.74 L339.00,137.76 L340.00,138.78 L341.00,139.80 L342.00,140.84 L343.00,141.88 L344.00,142.92 L345.00,143.97 L346.00,145.03" stroke="#d0282e" stroke-width="1.1" fill="none"/>
<rect x="40.90" y="201.29" width="4.4" height="4.2" fill="none" stroke="#444" stroke-width="0.9"/>
<rect x="81.20" y="186.55" width="4.4" height="4.2" fill="none" stroke="#444" stroke-width="0.9"/>
<rect x="121.20" y="168.94" width="4.4" height="4.2" fill="none" stroke="#444" stroke-width="0.9"/>
<rect x="161.40" y="153.85" width="4.4" height="4.2" fill="none" stroke="#444" stroke-width="0.9"/>
<rect x="200.70" y="136.21" width="4.4" height="4.2" fill="none" stroke="#444" stroke-width="0.9"/>
<rect x="236.90" y="124.07" width="4.4" height="4.2" fill="none" stroke="#444" stroke-width="0.9"/>
<rect x="269.30" y="118.73" width="4.4" height="4.2" fill="none" stroke="#444" stroke-width="0.9"/>
<rect x="296.80" y="121.76" width="4.4" height="4.2" fill="none" stroke="#444" stroke-width="0.9"/>
<rect x="321.80" y="132.87" width="4.4" height="4.2" fill="none" stroke="#444" stroke-width="0.9"/>
<rect x="343.80" y="148.11" width="4.4" height="4.2" fill="none" stroke="#444" stroke-width="0.9"/>
<rect x="40.90" y="155.69" width="4.4" height="4.2" fill="none" stroke="#6060b4" stroke-width="0.9"/>
<rect x="81.20" y="139.82" width="4.4" height="4.2" fill="none" stroke="#6060b4" stroke-width="0.9"/>
<rect x="121.20" y="123.08" width="4.4" height="4.2" fill="none" stroke="#6060b4" stroke-width="0.9"/>
<rect x="161.40" y="106.30" width="4.4" height="4.2" fill="none" stroke="#6060b4" stroke-width="0.9"/>
<rect x="200.70" y="92.01" width="4.4" height="4.2" fill="none" stroke="#6060b4" stroke-width="0.9"/>
<rect x="236.90" y="86.17" width="4.4" height="4.2" fill="none" stroke="#6060b4" stroke-width="0.9"/>
<rect x="269.30" y="91.45" width="4.4" height="4.2" fill="none" stroke="#6060b4" stroke-width="0.9"/>
<rect x="296.80" y="105.13" width="4.4" height="4.2" fill="none" stroke="#6060b4" stroke-width="0.9"/>
<rect x="321.80" y="123.56" width="4.4" height="4.2" fill="none" stroke="#6060b4" stroke-width="0.9"/>
<rect x="343.80" y="142.89" width="4.4" height="4.2" fill="none" stroke="#6060b4" stroke-width="0.9"/>
<rect x="40.90" y="142.81" width="4.4" height="4.2" fill="none" stroke="#6060b4" stroke-width="0.9"/>
<rect x="81.20" y="126.98" width="4.4" height="4.2" fill="none" stroke="#6060b4" stroke-width="0.9"/>
<rect x="121.20" y="110.29" width="4.4" height="4.2" fill="none" stroke="#6060b4" stroke-width="0.9"/>
<rect x="161.40" y="94.47" width="4.4" height="4.2" fill="none" stroke="#6060b4" stroke-width="0.9"/>
<rect x="200.70" y="82.50" width="4.4" height="4.2" fill="none" stroke="#6060b4" stroke-width="0.9"/>
<rect x="236.90" y="79.13" width="4.4" height="4.2" fill="none" stroke="#6060b4" stroke-width="0.9"/>
<rect x="269.30" y="86.34" width="4.4" height="4.2" fill="none" stroke="#6060b4" stroke-width="0.9"/>
<rect x="296.80" y="101.84" width="4.4" height="4.2" fill="none" stroke="#6060b4" stroke-width="0.9"/>
<rect x="321.80" y="121.64" width="4.4" height="4.2" fill="none" stroke="#6060b4" stroke-width="0.9"/>
<rect x="343.80" y="142.25" width="4.4" height="4.2" fill="none" stroke="#6060b4" stroke-width="0.9"/>
<path d="M222.00,84.90 L223.00,84.90 L224.00,84.90 L225.00,84.91 L226.00,84.91 L227.00,84.92 L228.00,84.92 L229.00,84.93 L230.00,84.94 L231.00,84.95 L232.00,84.96 L233.00,84.97 L234.00,84.99 L235.00,85.00 L236.00,85.02 L237.00,85.05 L238.00,85.08 L239.00,85.13 L240.00,85.18 L241.00,85.24 L242.00,85.30 L243.00,85.37 L244.00,85.45 L245.00,85.53 L246.00,85.62 L247.00,85.71 L248.00,85.80 L249.00,85.91 L250.00,86.03 L251.00,86.18 L252.00,86.35 L253.00,86.54 L254.00,86.74 L255.00,86.96 L256.00,87.19 L257.00,87.44 L258.00,87.70 L259.00,87.96 L260.00,88.24 L261.00,88.52 L262.00,88.81 L263.00,89.10 L264.00,89.40 L265.00,89.70 L266.00,90.01 L267.00,90.33 L268.00,90.68 L269.00,91.04 L270.00,91.42 L271.00,91.81 L272.00,92.23" stroke="#c2e4c2" stroke-width="2.2" fill="none"/>
<rect x="221.80" y="84.20" width="1.3" height="1.3" fill="#2a922f"/>
<rect x="224.50" y="84.21" width="1.3" height="1.3" fill="#2a922f"/>
<rect x="227.20" y="84.22" width="1.3" height="1.3" fill="#2a922f"/>
<rect x="229.90" y="84.25" width="1.3" height="1.3" fill="#2a922f"/>
<rect x="232.60" y="84.28" width="1.3" height="1.3" fill="#2a922f"/>
<rect x="235.30" y="84.32" width="1.3" height="1.3" fill="#2a922f"/>
<rect x="238.00" y="84.41" width="1.3" height="1.3" fill="#2a922f"/>
<rect x="240.70" y="84.56" width="1.3" height="1.3" fill="#2a922f"/>
<rect x="243.40" y="84.76" width="1.3" height="1.3" fill="#2a922f"/>
<rect x="246.10" y="84.99" width="1.3" height="1.3" fill="#2a922f"/>
<rect x="248.80" y="85.27" width="1.3" height="1.3" fill="#2a922f"/>
<rect x="251.50" y="85.69" width="1.3" height="1.3" fill="#2a922f"/>
<rect x="254.20" y="86.24" width="1.3" height="1.3" fill="#2a922f"/>
<rect x="256.90" y="86.89" width="1.3" height="1.3" fill="#2a922f"/>
<rect x="259.60" y="87.62" width="1.3" height="1.3" fill="#2a922f"/>
<rect x="262.30" y="88.40" width="1.3" height="1.3" fill="#2a922f"/>
<rect x="265.00" y="89.21" width="1.3" height="1.3" fill="#2a922f"/>
<rect x="267.70" y="90.12" width="1.3" height="1.3" fill="#2a922f"/>
<rect x="270.40" y="91.16" width="1.3" height="1.3" fill="#2a922f"/>
<rect x="275.00" y="93.46" width="2" height="1.2" fill="#3a9a3f"/>
<rect x="279.60" y="96.14" width="2" height="1.2" fill="#3a9a3f"/>
<rect x="284.20" y="99.59" width="2" height="1.2" fill="#3a9a3f"/>
<rect x="288.80" y="101.17" width="2" height="1.2" fill="#3a9a3f"/>
<rect x="293.40" y="103.15" width="2" height="1.2" fill="#3a9a3f"/>
<rect x="298.00" y="106.76" width="2" height="1.2" fill="#3a9a3f"/>
<rect x="302.60" y="109.84" width="2" height="1.2" fill="#3a9a3f"/>
<rect x="307.20" y="112.91" width="2" height="1.2" fill="#3a9a3f"/>
<rect x="311.80" y="116.00" width="2" height="1.2" fill="#3a9a3f"/>
<rect x="316.40" y="119.06" width="2" height="1.2" fill="#3a9a3f"/>
<rect x="321.00" y="122.42" width="2" height="1.2" fill="#3a9a3f"/>
<rect x="325.60" y="126.05" width="2" height="1.2" fill="#3a9a3f"/>
<rect x="330.20" y="129.95" width="2" height="1.2" fill="#3a9a3f"/>
<rect x="334.80" y="134.23" width="2" height="1.2" fill="#3a9a3f"/>
<circle cx="151" cy="101.5" r="2.4" fill="#000"/>
<circle cx="157.3" cy="101.5" r="2.4" fill="#000"/>
<circle cx="163.6" cy="98.9" r="2.4" fill="#000"/>
<circle cx="169.9" cy="96.6" r="2.4" fill="#000"/>
<circle cx="176.3" cy="94.6" r="2.4" fill="#000"/>
<circle cx="184" cy="93.2" r="2.4" fill="#000"/>
<circle cx="205.1" cy="85.9" r="2.4" fill="#000"/>
<circle cx="211.2" cy="86" r="2.4" fill="#000"/>
<circle cx="217.8" cy="86.1" r="2.4" fill="#000"/>
<circle cx="151" cy="111.4" r="2.35" fill="#fff" stroke="#000" stroke-width="0.75"/>
<circle cx="157.3" cy="110.4" r="2.35" fill="#fff" stroke="#000" stroke-width="0.75"/>
<circle cx="163.6" cy="106.4" r="2.35" fill="#fff" stroke="#000" stroke-width="0.75"/>
<circle cx="169.9" cy="104.5" r="2.35" fill="#fff" stroke="#000" stroke-width="0.75"/>
<circle cx="176.3" cy="101.9" r="2.35" fill="#fff" stroke="#000" stroke-width="0.75"/>
<circle cx="184" cy="99.1" r="2.35" fill="#fff" stroke="#000" stroke-width="0.75"/>
<circle cx="199.2" cy="90.5" r="2.35" fill="#fff" stroke="#000" stroke-width="0.75"/>
<circle cx="205.1" cy="89.2" r="2.35" fill="#fff" stroke="#000" stroke-width="0.75"/>
<circle cx="211.2" cy="88.5" r="2.35" fill="#fff" stroke="#000" stroke-width="0.75"/>
<circle cx="217.8" cy="88.2" r="2.35" fill="#fff" stroke="#000" stroke-width="0.75"/>
<circle cx="228.3" cy="84.2" r="2.35" fill="#fff" stroke="#000" stroke-width="0.75"/>
<rect x="43.4" y="2.5" width="302.8" height="212.3" fill="none" stroke="#555" stroke-width="1"/>
<path d="M43.40,214.8V211.60M43.40,2.5V5.70M66.19,214.8V212.70M66.19,2.5V4.60M79.52,214.8V212.70M79.52,2.5V4.60M88.98,214.8V212.70M88.98,2.5V4.60M96.31,214.8V212.70M96.31,2.5V4.60M102.31,214.8V212.70M102.31,2.5V4.60M107.37,214.8V212.70M107.37,2.5V4.60M111.76,214.8V212.70M111.76,2.5V4.60M115.64,214.8V212.70M115.64,2.5V4.60M119.10,214.8V211.60M119.10,2.5V5.70M141.89,214.8V212.70M141.89,2.5V4.60M155.22,214.8V212.70M155.22,2.5V4.60M164.68,214.8V212.70M164.68,2.5V4.60M172.01,214.8V212.70M172.01,2.5V4.60M178.01,214.8V212.70M178.01,2.5V4.60M183.07,214.8V212.70M183.07,2.5V4.60M187.46,214.8V212.70M187.46,2.5V4.60M191.34,214.8V212.70M191.34,2.5V4.60M194.80,214.8V211.60M194.80,2.5V5.70M217.59,214.8V212.70M217.59,2.5V4.60M230.92,214.8V212.70M230.92,2.5V4.60M240.38,214.8V212.70M240.38,2.5V4.60M247.71,214.8V212.70M247.71,2.5V4.60M253.71,214.8V212.70M253.71,2.5V4.60M258.77,214.8V212.70M258.77,2.5V4.60M263.16,214.8V212.70M263.16,2.5V4.60M267.04,214.8V212.70M267.04,2.5V4.60M270.50,214.8V211.60M270.50,2.5V5.70M293.29,214.8V212.70M293.29,2.5V4.60M306.62,214.8V212.70M306.62,2.5V4.60M316.08,214.8V212.70M316.08,2.5V4.60M323.41,214.8V212.70M323.41,2.5V4.60M329.41,214.8V212.70M329.41,2.5V4.60M334.47,214.8V212.70M334.47,2.5V4.60M338.86,214.8V212.70M338.86,2.5V4.60M342.74,214.8V212.70M342.74,2.5V4.60M346.20,214.8V211.60M346.20,2.5V5.70M43.4,214.80H46.60M346.2,214.80H343.00M43.4,205.67H45.50M346.2,205.67H344.10M43.4,200.33H45.50M346.2,200.33H344.10M43.4,196.54H45.50M346.2,196.54H344.10M43.4,193.60H45.50M346.2,193.60H344.10M43.4,191.20H45.50M346.2,191.20H344.10M43.4,189.17H45.50M346.2,189.17H344.10M43.4,187.41H45.50M346.2,187.41H344.10M43.4,185.86H45.50M346.2,185.86H344.10M43.4,184.47H46.60M346.2,184.47H343.00M43.4,175.34H45.50M346.2,175.34H344.10M43.4,170.00H45.50M346.2,170.00H344.10M43.4,166.21H45.50M346.2,166.21H344.10M43.4,163.27H45.50M346.2,163.27H344.10M43.4,160.87H45.50M346.2,160.87H344.10M43.4,158.84H45.50M346.2,158.84H344.10M43.4,157.08H45.50M346.2,157.08H344.10M43.4,155.53H45.50M346.2,155.53H344.10M43.4,154.14H46.60M346.2,154.14H343.00M43.4,145.01H45.50M346.2,145.01H344.10M43.4,139.67H45.50M346.2,139.67H344.10M43.4,135.88H45.50M346.2,135.88H344.10M43.4,132.94H45.50M346.2,132.94H344.10M43.4,130.54H45.50M346.2,130.54H344.10M43.4,128.51H45.50M346.2,128.51H344.10M43.4,126.75H45.50M346.2,126.75H344.10M43.4,125.20H45.50M346.2,125.20H344.10M43.4,123.81H46.60M346.2,123.81H343.00M43.4,114.68H45.50M346.2,114.68H344.10M43.4,109.34H45.50M346.2,109.34H344.10M43.4,105.55H45.50M346.2,105.55H344.10M43.4,102.62H45.50M346.2,102.62H344.10M43.4,100.21H45.50M346.2,100.21H344.10M43.4,98.18H45.50M346.2,98.18H344.10M43.4,96.42H45.50M346.2,96.42H344.10M43.4,94.87H45.50M346.2,94.87H344.10M43.4,93.49H46.60M346.2,93.49H343.00M43.4,84.36H45.50M346.2,84.36H344.10M43.4,79.02H45.50M346.2,79.02H344.10M43.4,75.23H45.50M346.2,75.23H344.10M43.4,72.29H45.50M346.2,72.29H344.10M43.4,69.89H45.50M346.2,69.89H344.10M43.4,67.86H45.50M346.2,67.86H344.10M43.4,66.10H45.50M346.2,66.10H344.10M43.4,64.54H45.50M346.2,64.54H344.10M43.4,63.16H46.60M346.2,63.16H343.00M43.4,54.03H45.50M346.2,54.03H344.10M43.4,48.69H45.50M346.2,48.69H344.10M43.4,44.90H45.50M346.2,44.90H344.10M43.4,41.96H45.50M346.2,41.96H344.10M43.4,39.56H45.50M346.2,39.56H344.10M43.4,37.53H45.50M346.2,37.53H344.10M43.4,35.77H45.50M346.2,35.77H344.10M43.4,34.22H45.50M346.2,34.22H344.10M43.4,32.83H46.60M346.2,32.83H343.00M43.4,23.70H45.50M346.2,23.70H344.10M43.4,18.36H45.50M346.2,18.36H344.10M43.4,14.57H45.50M346.2,14.57H344.10M43.4,11.63H45.50M346.2,11.63H344.10M43.4,9.23H45.50M346.2,9.23H344.10M43.4,7.20H45.50M346.2,7.20H344.10M43.4,5.44H45.50M346.2,5.44H344.10M43.4,3.89H45.50M346.2,3.89H344.10M43.4,2.50H46.60M346.2,2.50H343.00" stroke="#555" stroke-width="0.8" fill="none"/>
<text x="43.40" y="226.5" font-size="8.4" text-anchor="middle">0.001</text>
<text x="119.10" y="226.5" font-size="8.4" text-anchor="middle">0.01</text>
<text x="194.80" y="226.5" font-size="8.4" text-anchor="middle">0.1</text>
<text x="270.50" y="226.5" font-size="8.4" text-anchor="middle">1</text>
<text x="346.20" y="226.5" font-size="8.4" text-anchor="middle">10</text>
<text x="38.6" y="217.80" font-size="8.4" text-anchor="end">0.0001</text>
<text x="38.6" y="187.47" font-size="8.4" text-anchor="end">0.001</text>
<text x="38.6" y="157.14" font-size="8.4" text-anchor="end">0.01</text>
<text x="38.6" y="126.81" font-size="8.4" text-anchor="end">0.1</text>
<text x="38.6" y="96.49" font-size="8.4" text-anchor="end">1</text>
<text x="38.6" y="66.16" font-size="8.4" text-anchor="end">10</text>
<text x="38.6" y="35.83" font-size="8.4" text-anchor="end">100</text>
<text x="38.6" y="5.50" font-size="8.4" text-anchor="end">1000</text>
<text x="148.2" y="241.8" font-size="10" letter-spacing="0.12">Kinetic energy [GeV]</text>
<text transform="translate(10.3,110.5) rotate(-90)" font-size="10" letter-spacing="0.3" text-anchor="middle">j<tspan font-size="6.8" dy="2">T</tspan><tspan dy="-2"> [MeV.s.m</tspan><tspan font-size="6.8" dy="-3.8">2</tspan><tspan dy="3.8">.sr]</tspan><tspan font-size="6.8" dy="-4.2">-1</tspan></text>
<text x="49.6" y="16.7" font-size="10.6" letter-spacing="0.25" word-spacing="1.2">1 AU</text>
<circle cx="287.4" cy="16.8" r="2.45" fill="#000"/>
<circle cx="287.4" cy="26.9" r="2.25" fill="#fff" stroke="#000" stroke-width="0.75"/>
<rect x="286.6" y="36.1" width="1.5" height="1.5" fill="#2a9a2a"/>
<text x="300" y="20.00" font-size="8">IMP8, A&gt;0</text>
<text x="300" y="30.10" font-size="8">IMP8, A&lt;0</text>
<text x="300" y="40.20" font-size="8">BESS97</text>
<path d="M236,142H278" stroke="#4f8a5f" stroke-width="1" fill="none"/>
<text x="288" y="145.35" font-size="8.2">LIS</text>
<path d="M236,152H278" stroke="#d0282e" stroke-width="1" fill="none"/>
<text x="288" y="155.35" font-size="8.2">ADI, A&gt;0</text>
<path d="M236,162.2H275.5" stroke="#d0282e" stroke-width="1" fill="none" stroke-dasharray="10.3,3.5"/>
<text x="288" y="165.55" font-size="8.2">ADI, A&lt;0</text>
<path d="M236,172.5H278" stroke="#444" stroke-width="0.8" fill="none"/>
<text x="288" y="175.85" font-size="8.2">SDE, No Drift</text>
<path d="M236,182.6H278" stroke="#000" stroke-width="1" fill="none"/>
<text x="288" y="185.95" font-size="8.2">ADI, No Drift</text>
<path d="M236,192.8H278" stroke="#7676c6" stroke-width="0.9" fill="none" stroke-dasharray="10,3.3"/>
<text x="288" y="196.15" font-size="8.2">SDE, A&lt;0</text>
<path d="M236,203H278" stroke="#7676c6" stroke-width="0.9" fill="none"/>
<text x="288" y="206.35" font-size="8.2">SDE, A&gt;0</text>
<rect x="254.4" y="170.4" width="4.6" height="4.2" fill="none" stroke="#444" stroke-width="0.9"/>
<rect x="254.4" y="190.70000000000002" width="4.6" height="4.2" fill="none" stroke="#6060b4" stroke-width="0.9"/>
<rect x="254.4" y="200.9" width="4.6" height="4.2" fill="none" stroke="#6060b4" stroke-width="0.9"/>
</svg></body></html>
